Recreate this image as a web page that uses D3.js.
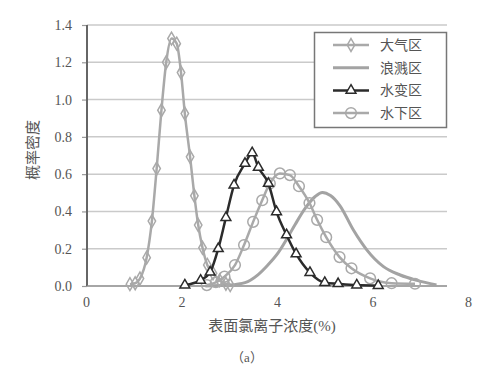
<!DOCTYPE html>
<html>
  <head>
    <meta charset="utf-8">
    <title>表面氯离子浓度概率密度</title>
    <script src="https://d3js.org/d3.v7.min.js"></script>
    <style>
      body { margin: 0; background: #fff; }
    </style>
  </head>
  <body>
    <div id="chart"></div>
    <script>
      // data: [concentration %, density]
      var daqi = [[0.92, 0.01], [1.03, 0.015], [1.13, 0.04], [1.27, 0.152], [1.38, 0.348], [1.48, 0.63],
        [1.58, 0.943], [1.68, 1.2], [1.79, 1.327], [1.9, 1.3], [1.99, 1.145], [2.07, 0.925],
        [2.18, 0.693], [2.27, 0.484], [2.35, 0.327], [2.44, 0.205], [2.54, 0.113], [2.66, 0.068],
        [2.8, 0.03], [2.93, 0.012], [3.02, 0.005]];
      var langjian = [[2.5, 0], [3.0, 0.005], [3.33, 0.018], [3.6, 0.06], [3.8, 0.11], [4.03, 0.18],
        [4.2, 0.25], [4.38, 0.33], [4.6, 0.42], [4.8, 0.48], [4.95, 0.502], [5.12, 0.485],
        [5.32, 0.43], [5.6, 0.3], [5.88, 0.194], [6.23, 0.104], [6.58, 0.059], [6.93, 0.03], [7.34, 0.005]];
      var shuibian = [[2.07, 0.005], [2.4, 0.03], [2.6, 0.074], [2.77, 0.2], [2.93, 0.367], [3.1, 0.541],
        [3.33, 0.657], [3.48, 0.714], [3.61, 0.636], [3.82, 0.55], [3.99, 0.398], [4.2, 0.274],
        [4.4, 0.172], [4.69, 0.072], [5.0, 0.018], [5.28, 0.012], [5.67, 0.005], [6.12, 0.002]];
      var shuixia = [[2.53, 0.005], [2.72, 0.02], [2.9, 0.05], [3.12, 0.112], [3.31, 0.22], [3.5, 0.344],
        [3.69, 0.46], [3.85, 0.55], [4.06, 0.604], [4.27, 0.595], [4.46, 0.535], [4.68, 0.445],
        [4.84, 0.355], [5.03, 0.262], [5.31, 0.155], [5.56, 0.095], [5.95, 0.041], [6.4, 0.015], [6.89, 0.012]];
      var xTicks = [0, 2, 4, 6, 8];
      var yTicks = [0, 0.2, 0.4, 0.6, 0.8, 1.0, 1.2, 1.4];
      var names = ["大气区", "浪溅区", "水变区", "水下区"];

      var font = "'Liberation Serif', 'Times New Roman', 'DejaVu Serif', 'Noto Sans CJK SC', serif";
      var width = 500, height = 372;
      var plotLeft = 87, plotRight = 447;
      var x = d3.scaleLinear().domain([0, 8]).range([86, 468]);
      var y = d3.scaleLinear().domain([0, 1.4]).range([286, 25]);

      var svg = d3.select("#chart").append("svg")
        .attr("width", width)
        .attr("height", height);

      // gridlines
      svg.append("g")
        .selectAll("line")
          .data(yTicks.slice(1))
        .enter().append("line")
          .attr("x1", plotLeft)
          .attr("x2", plotRight)
          .attr("y1", function(d) { return y(d); })
          .attr("y2", function(d) { return y(d); })
          .style("stroke", "#cacaca")
          .style("stroke-width", 1.5);

      // y axis
      var yAxis = svg.append("g")
        .attr("transform", "translate(" + plotLeft + ",0)")
        .call(d3.axisLeft(y).tickValues(yTicks).tickFormat(d3.format(".1f")).tickSize(5).tickPadding(10));
      yAxis.select(".domain").remove();
      yAxis.selectAll("line").style("stroke", "#999").style("stroke-width", 1.2);
      yAxis.selectAll("text")
        .style("font-family", font)
        .style("font-size", "14px")
        .style("fill", "#555");
      svg.append("line")
        .attr("x1", plotLeft).attr("x2", plotLeft)
        .attr("y1", y(1.4)).attr("y2", y(0))
        .style("stroke", "#666")
        .style("stroke-width", 2);

      // x axis
      var xAxis = svg.append("g")
        .attr("transform", "translate(0," + y(0) + ")")
        .call(d3.axisBottom(x).tickValues(xTicks).tickSize(0).tickPadding(11));
      xAxis.select(".domain").remove();
      xAxis.selectAll("text")
        .style("font-family", font)
        .style("font-size", "14px")
        .style("fill", "#555");
      svg.append("line")
        .attr("x1", plotLeft).attr("x2", plotRight)
        .attr("y1", y(0)).attr("y2", y(0))
        .style("stroke", "#888")
        .style("stroke-width", 1.5);

      // axis titles
      svg.append("text")
        .attr("x", 272)
        .attr("y", 331)
        .attr("text-anchor", "middle")
        .style("font-family", font)
        .style("font-size", "15px")
        .style("fill", "#555")
        .text("表面氯离子浓度(%)");
      svg.append("text")
        .attr("x", 247)
        .attr("y", 362)
        .attr("text-anchor", "middle")
        .style("font-family", font)
        .style("font-size", "13px")
        .style("fill", "#555")
        .text("（a）");
      svg.append("text")
        .attr("transform", "translate(38,150) rotate(-90)")
        .attr("text-anchor", "middle")
        .style("font-family", font)
        .style("font-size", "15px")
        .style("fill", "#555")
        .text("概率密度");

      var line = d3.line()
        .x(function(d) { return x(d[0]); })
        .y(function(d) { return y(d[1]); })
        .curve(d3.curveMonotoneX);

      var series = [
        { data: daqi, color: "#a9a9a9", width: 2.5, symbol: d3.symbolDiamond, size: 48, fill: "none" },
        { data: langjian, color: "#a3a3a3", width: 3, symbol: null },
        { data: shuibian, color: "#2b2b2b", width: 2.5, symbol: d3.symbolTriangle, size: 42, fill: "#fff" },
        { data: shuixia, color: "#a9a9a9", width: 2.5, symbol: d3.symbolCircle, size: 90, fill: "none" }
      ];
      // draw in back-to-front order like the original
      [1, 3, 0, 2].forEach(function(i) {
        var s = series[i];
        svg.append("path")
          .datum(s.data)
          .attr("d", line)
          .style("fill", "none")
          .style("stroke", s.color)
          .style("stroke-width", s.width);
        if (s.symbol) {
          svg.append("g")
            .selectAll("path")
              .data(s.data)
            .enter().append("path")
              .attr("transform", function(d) { return "translate(" + x(d[0]) + "," + y(d[1]) + ")"; })
              .attr("d", d3.symbol().type(s.symbol).size(s.size))
              .style("fill", s.fill)
              .style("stroke", s.color)
              .style("stroke-width", 1.5);
        }
      });

      // legend
      var legend = svg.append("g");
      legend.append("rect")
        .attr("x", 314.5).attr("y", 32.5)
        .attr("width", 132).attr("height", 95)
        .style("fill", "#fff")
        .style("stroke", "#777")
        .style("stroke-width", 1.5);
      var items = legend.selectAll(".item")
          .data(series)
        .enter().append("g")
          .attr("transform", function(d, i) { return "translate(0," + (45 + i * 22.7) + ")"; });
      items.append("line")
        .attr("x1", 333).attr("x2", 369)
        .style("stroke", function(d) { return d.color; })
        .style("stroke-width", function(d) { return d.width; });
      items.filter(function(d) { return d.symbol; })
        .append("path")
          .attr("transform", "translate(351,0)")
          .attr("d", function(d) { return d3.symbol().type(d.symbol).size(d.size)(); })
          .style("fill", function(d) { return d.fill; })
          .style("stroke", function(d) { return d.color; })
          .style("stroke-width", 1.5);
      items.append("text")
        .attr("x", 380)
        .attr("dy", "0.35em")
        .style("font-family", font)
        .style("font-size", "14px")
        .style("fill", "#555")
        .text(function(d, i) { return names[i]; });
    </script>
  </body>
</html>
